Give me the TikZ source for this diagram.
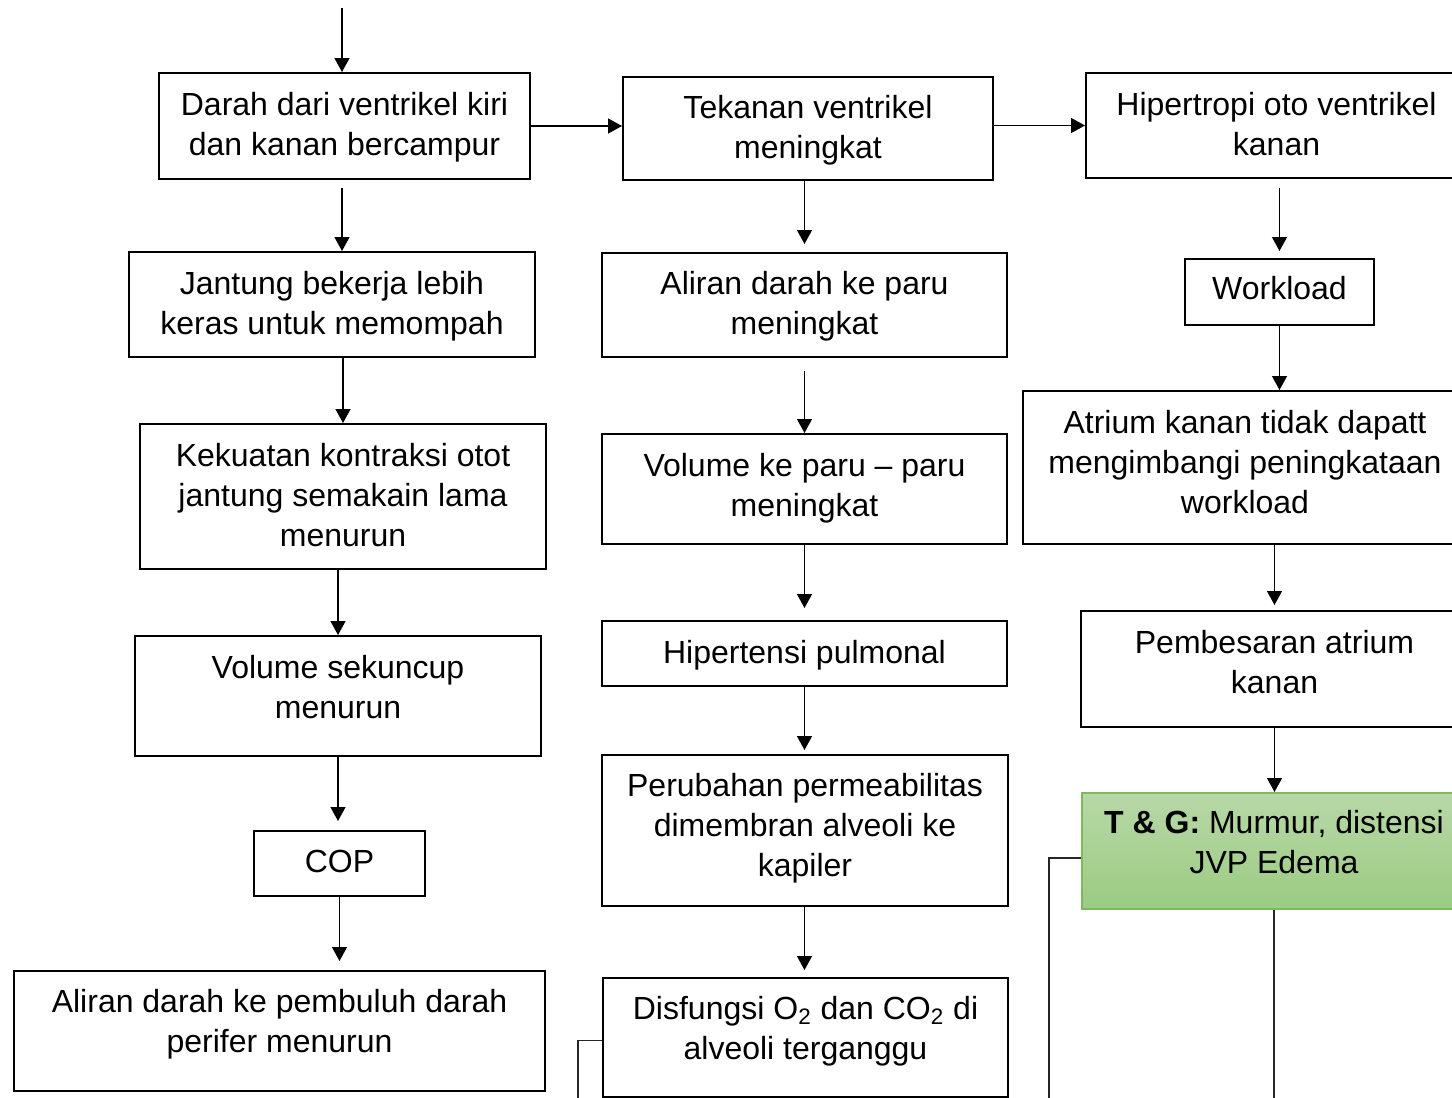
\documentclass[tikz,border=0pt]{standalone}
\usepackage{fontspec}
\setmainfont{Liberation Sans}
\usetikzlibrary{arrows.meta}
\definecolor{tgtop}{RGB}{184,216,167}
\definecolor{tgbot}{RGB}{155,203,130}
\definecolor{tgline}{RGB}{125,185,95}

\begin{document}
\begin{tikzpicture}[x=0.5pt,y=-0.5pt,
	box/.style={draw,line width=1pt,align=center,inner sep=2pt,
		font=\fontsize{16}{20}\selectfont,text depth=2pt},
	lift/.style={text depth=#1},
	arr/.style={line width=0.65pt,>={Triangle[length=7pt,width=7.5pt]},->},
	link/.style={line width=0.6pt,color=black!85}]
	\useasboundingbox (0,0) rectangle (1452,1098);
	\clip (0,0) rectangle (1452,1098);

	% kolom kiri
	\node[box,minimum width=185.5pt,minimum height=53pt] (b1) at (344.5,126) {Darah dari ventrikel kiri\\dan kanan bercampur};
	\node[box,minimum width=203pt,minimum height=52.5pt] (b2) at (332,304.5) {Jantung bekerja lebih\\keras untuk memompah};
	\node[box,minimum width=203pt,minimum height=72.5pt] (b3) at (343,496.5) {Kekuatan kontraksi otot\\jantung semakain lama\\menurun};
	\node[box,lift=9.5pt,minimum width=203pt,minimum height=60pt] (b4) at (338,696) {Volume sekuncup\\menurun};
	\node[box,minimum width=85.5pt,minimum height=32.5pt] (b5) at (339.5,863.5) {COP};
	\node[box,lift=10pt,minimum width=265.5pt,minimum height=60pt] (b6) at (279.5,1031) {Aliran darah ke pembuluh darah\\perifer menurun};

	% kolom tengah
	\node[box,minimum width=185pt,minimum height=51.5pt] (c1) at (808,128.5) {Tekanan ventrikel\\meningkat};
	\node[box,minimum width=202.5pt,minimum height=52pt] (c2) at (804.5,305) {Aliran darah ke paru\\meningkat};
	\node[box,lift=4pt,minimum width=202.5pt,minimum height=55pt] (c3) at (804.5,489) {Volume ke paru -- paru\\meningkat};
	\node[box,minimum width=202.5pt,minimum height=32.5pt] (c4) at (804.5,653.5) {Hipertensi pulmonal};
	\node[box,lift=5.5pt,minimum width=203pt,minimum height=75.5pt] (c5) at (805,830.5) {Perubahan permeabilitas\\dimembran alveoli ke\\kapiler};
	\node[box,lift=9.5pt,minimum width=202.5pt,minimum height=59.5pt] (c6) at (805.5,1037.5) {Disfungsi O\textsubscript{2} dan CO\textsubscript{2} di\\alveoli terganggu};

	% kolom kanan
	\node[box,minimum width=190.5pt,minimum height=52.5pt] (d1) at (1276.5,125.5) {Hipertropi oto ventrikel\\kanan};
	\node[box,lift=4pt,minimum width=94.5pt,minimum height=33pt] (d2) at (1279.5,292) {Workload};
	\node[box,lift=5.5pt,minimum width=222pt,minimum height=76.5pt] (d3) at (1245,467.5) {Atrium kanan tidak dapatt\\mengimbangi peningkataan\\workload};
	\node[box,lift=7pt,minimum width=193.5pt,minimum height=58pt] (d4) at (1274.5,669) {Pembesaran atrium\\kanan};
	\node[box,lift=9pt,draw=tgline,top color=tgtop,bottom color=tgbot,minimum width=192pt,minimum height=58pt] (d5) at (1274,851) {\textbf{T \& G:} Murmur, distensi\\JVP Edema};

	\coordinate (topin) at (342,8);
	\coordinate (c6end) at (578,1110);
	\coordinate (d5end) at (1049,1110);

	\draw[arr] (topin) -- (topin |- b1.north);
	\draw[arr,shorten <=4pt] (topin |- b1.south) -- (topin |- b2.north);
	\draw[arr] (b2.south -| b3.north) -- (b3.north);
	\draw[arr] (b3.south -| b4.north) -- (b4.north);
	\draw[arr,shorten >=4.5pt] (b4.south) -- (b4.south |- b5.north);
	\draw[arr,shorten >=4.5pt] (b5.south) -- (b5.south |- b6.north);

	\draw[arr] (b1.east) -- (b1.east -| c1.west);
	\draw[arr] (c1.east |- d1.west) -- (d1.west);

	\draw[arr,shorten >=4pt] (c2.north |- c1.south) -- (c2.north);
	\draw[arr,shorten <=6.5pt] (c2.south) -- (c3.north);
	\draw[arr,shorten >=6pt] (c3.south) -- (c4.north);
	\draw[arr,shorten >=2pt] (c4.south) -- (c4.south |- c5.north);
	\draw[arr,shorten >=3.5pt] (c4.south |- c5.south) -- (c4.south |- c6.north);

	\draw[arr,shorten <=4.5pt,shorten >=3.5pt] (d2.north |- d1.south) -- (d2.north);
	\draw[arr] (d2.south) -- (d2.south |- d3.north);
	\draw[arr,shorten >=2.5pt] (d4.north |- d3.south) -- (d4.north);
	\draw[arr] (d4.south) -- (d4.south |- d5.north);

	\draw[link] ([yshift=-1.5pt]c6.west) -| (c6end);
	\draw[link] ([yshift=-3.5pt]d5.west) -| (d5end);
	\draw[link] (d5.south) -- (d5.south |- d5end);
\end{tikzpicture}
\end{document}
